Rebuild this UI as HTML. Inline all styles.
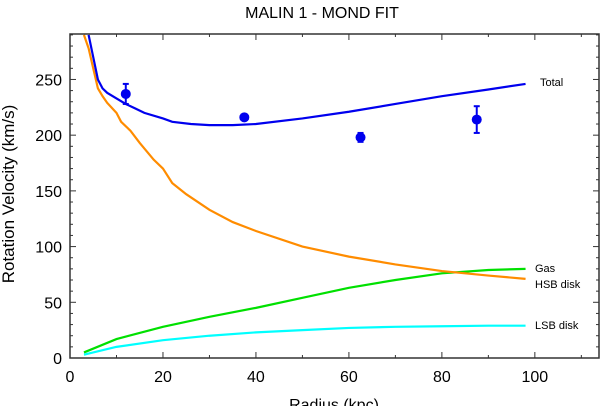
<!DOCTYPE html>
<html><head><meta charset="utf-8"><style>
body{margin:0;background:#fff;width:601px;height:406px;overflow:hidden;font-family:"Liberation Sans",sans-serif}
</style></head><body>
<svg width="601" height="406" style="font-family:'Liberation Sans',sans-serif">
<text x="322" y="18" font-size="16" text-anchor="middle">MALIN 1 - MOND FIT</text>
<g id="ticks"></g>
<g id="series"></g>
<rect x="70" y="34" width="529" height="324" fill="none" stroke="#333" stroke-width="1.5"/>
<text x="14" y="194" font-size="17" text-anchor="middle" transform="rotate(-90 14 194)">Rotation Velocity (km/s)</text>
<text x="334" y="410" font-size="16" text-anchor="middle">Radius (kpc)</text>
<text x="540" y="86" font-size="11">Total</text>
<text x="535" y="272" font-size="11">Gas</text>
<text x="535" y="288" font-size="11">HSB disk</text>
<text x="535" y="329" font-size="11">LSB disk</text>
</svg>
<script>
const xTicks=[0,20,40,60,80,100];
const yTicks=[0,50,100,150,200,250];
const totalX=[4,5,6,7,8,10,12,14,16,20,22,26,30,35,40,50,60,70,80,90,98];
const totalY=[290,270,250,242,238,233,228,224,220,215,212,210,209,209,210,215,221,228,235,241,246];
const hsbX=[3,4,5,6,7,8,10,11,13,15,18,20,22,25,30,35,40,50,60,70,80,90,98];
const hsbY=[290,278,260,242,235,229,220,212,204,193,178,170,157,147,133,122,114,100,91,84,78,74,71];
const gasX=[3,10,20,30,40,50,60,70,80,90,98];
const gasY=[5,17,28,37,45,54,63,70,76,79,80];
const lsbX=[3,10,20,30,40,50,60,70,80,90,98];
const lsbY=[3,10,16,20,23,25,27,28,28.5,29,29];
const obsX=[12,37.5,62.5,87.5];
const obsY=[237,216,198,214];
const obsErr=[9,2,4,12];
const X0=70,X1=599,Y0=358,Y1=34,XMAX=113.8,YMAX=290.8;
const sx=v=>X0+v*(X1-X0)/XMAX, sy=v=>Y0-v*(Y0-Y1)/YMAX;
const NS='http://www.w3.org/2000/svg';
function mk(tag,attrs,parent){const e=document.createElementNS(NS,tag);for(const k in attrs)e.setAttribute(k,attrs[k]);parent.appendChild(e);return e;}
const tg=document.getElementById('ticks'),sg=document.getElementById('series');
for(let v=0;v<=110;v+=10){const big=v%20===0;const L=big?6:3;
 mk('line',{x1:sx(v),x2:sx(v),y1:Y0,y2:Y0-L,stroke:'#333'},tg);
 mk('line',{x1:sx(v),x2:sx(v),y1:Y1,y2:Y1+L,stroke:'#333'},tg);}
for(let v=0;v<=290;v+=10){const big=v%50===0;const L=big?6:3;
 mk('line',{x1:X0,x2:X0+L,y1:sy(v),y2:sy(v),stroke:'#333'},tg);
 mk('line',{x1:X1,x2:X1-L,y1:sy(v),y2:sy(v),stroke:'#333'},tg);}
xTicks.forEach(v=>{const t=mk('text',{x:sx(v),y:382,'font-size':16,'text-anchor':'middle'},tg);t.textContent=v;

});
yTicks.forEach(v=>{const t=mk('text',{x:62,y:sy(v)+6,'font-size':16,'text-anchor':'end'},tg);t.textContent=v;

});
function line(xs,ys,c,name){const p=mk('polyline',{points:xs.map((x,i)=>sx(x)+','+sy(ys[i])).join(' '),fill:'none',stroke:c,'stroke-width':2.2},sg);

}
line(lsbX,lsbY,'#00ffff','lsb-disk-line');
line(gasX,gasY,'#00e000','gas-line');
line(hsbX,hsbY,'#ff8c00','hsb-disk-line');
line(totalX,totalY,'#0000ee','total-line');
obsX.forEach((x,i)=>{const g=mk('g',{},sg);


const a=sy(obsY[i]+obsErr[i]),b=sy(obsY[i]-obsErr[i]);
mk('line',{x1:sx(x),x2:sx(x),y1:a,y2:b,stroke:'#0000ee','stroke-width':2},g);
mk('line',{x1:sx(x)-3,x2:sx(x)+3,y1:a,y2:a,stroke:'#0000ee','stroke-width':2},g);
mk('line',{x1:sx(x)-3,x2:sx(x)+3,y1:b,y2:b,stroke:'#0000ee','stroke-width':2},g);
mk('circle',{cx:sx(x),cy:sy(obsY[i]),r:5,fill:'#0000ee'},g);});
</script>
</body></html>
